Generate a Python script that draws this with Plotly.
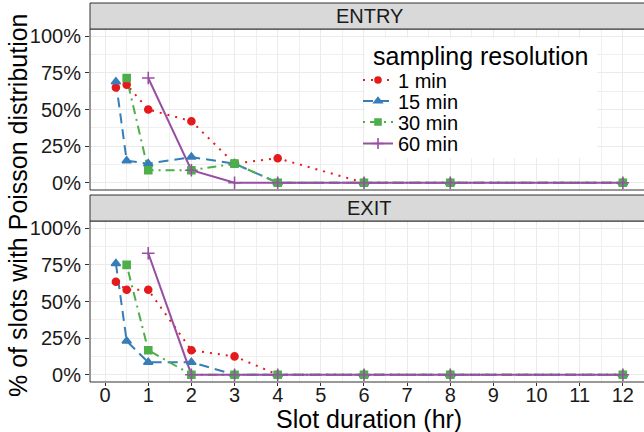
import plotly.graph_objects as go

# ---- data ----
x_all = [0.25, 0.5, 1, 2, 3, 4, 6, 8, 12]
x_30 = [0.5, 1, 2, 3, 4, 6, 8, 12]
x_60 = [1, 2, 3, 4, 6, 8, 12]

series_names = ["1 min", "15 min", "30 min", "60 min"]

entry_1 = [0.65, 0.67, 0.50, 0.42, 0.13, 0.167, 0, 0, 0]
entry_15 = [0.69, 0.15, 0.13, 0.175, 0.13, 0, 0, 0, 0]
entry_30 = [0.715, 0.085, 0.085, 0.13, 0, 0, 0, 0]
entry_60 = [0.715, 0.085, 0, 0, 0, 0, 0]

exit_1 = [0.635, 0.58, 0.58, 0.167, 0.125, 0, 0, 0, 0]
exit_15 = [0.76, 0.23, 0.085, 0.085, 0, 0, 0, 0, 0]
exit_30 = [0.75, 0.167, 0, 0, 0, 0, 0, 0]
exit_60 = [0.83, 0, 0, 0, 0, 0, 0]

panel_labels = ["ENTRY", "EXIT"]
y_ticks = [0, 0.25, 0.5, 0.75, 1.0]
x_ticks = list(range(0, 13))

# ---- styles ----
colors = ["#E41A1C", "#377EB8", "#4DAF4A", "#984EA3"]
dashes = ["2px,6px", "10px,6px", "2px,5px,9px,5px", "solid"]
symbols = ["circle", "triangle-up", "square", "cross-thin"]
msizes = [7, 8, 7, 9]
FONT = "Liberation Sans, Arial, sans-serif"

fig = go.Figure()

panels = [
    ("x", "y", [(x_all, entry_1), (x_all, entry_15), (x_30, entry_30), (x_60, entry_60)]),
    ("x2", "y2", [(x_all, exit_1), (x_all, exit_15), (x_30, exit_30), (x_60, exit_60)]),
]

for xa, ya, data in panels:
    for i, (xs, ys) in enumerate(data):
        fig.add_trace(go.Scatter(
            x=xs, y=ys, mode="lines", xaxis=xa, yaxis=ya, showlegend=False,
            line=dict(color=colors[i], width=2, dash=dashes[i]), hoverinfo="skip"))
    for i, (xs, ys) in enumerate(data):
        fig.add_trace(go.Scatter(
            x=xs, y=ys, mode="markers", xaxis=xa, yaxis=ya, showlegend=False,
            marker=dict(color=colors[i], symbol=symbols[i], size=msizes[i],
                        line=dict(color=colors[i], width=1.6))))

# geometry (pixels -> paper)
W, H = 644, 432
L, R, T, B = 90, 0, 3, 50
ph = H - T - B
pw = W - L - R
def py(p):
    return (H - B - p) / ph
def px(p):
    return (p - L) / pw

# legend: one plotly legend per entry so the rows can sit close together
legend_ids = ["legend", "legend2", "legend3", "legend4"]
legend_rows = [80, 101, 122, 143.5]
for i, name in enumerate(series_names):
    fig.add_trace(go.Scatter(
        x=[None], y=[None], mode="lines+markers", name=name, xaxis="x", yaxis="y",
        legend=legend_ids[i],
        line=dict(color=colors[i], width=2, dash=dashes[i]),
        marker=dict(color=colors[i], symbol=symbols[i], size=msizes[i] - 1,
                    line=dict(color=colors[i], width=1.6))))

legend_layout = {}
for i, lid in enumerate(legend_ids):
    legend_layout[lid] = dict(x=px(358), y=py(legend_rows[i]), xanchor="left", yanchor="middle",
                              bgcolor="rgba(0,0,0,0)", borderwidth=0,
                              font=dict(family=FONT, size=20, color="black"),
                              itemwidth=30, tracegroupgap=0)

top_dom = [py(190), py(29)]
bot_dom = [0, py(221)]
top_strip = [py(29), 1.0]
bot_strip = [py(221), py(195)]

xcommon = dict(range=[-0.35, 12.49], tickmode="array", tickvals=x_ticks,
               showgrid=True, gridcolor="#EBEBEB", gridwidth=1.2,
               minor=dict(dtick=0.5, tick0=0, showgrid=True, gridcolor="#EFEFEF", gridwidth=0.8),
               zeroline=False, showline=False, ticks="outside", ticklen=3,
               tickcolor="#333333", tickfont=dict(family=FONT, size=20, color="#1a1a1a"))
ycommon = dict(range=[-0.05, 1.05], tickmode="array", tickvals=y_ticks, tickformat=".0%",
               showgrid=True, gridcolor="#EBEBEB", gridwidth=1.2,
               minor=dict(dtick=0.125, tick0=0, showgrid=True, gridcolor="#EFEFEF", gridwidth=0.8),
               zeroline=False, showline=False, ticks="outside", ticklen=4,
               tickcolor="#333333", tickfont=dict(family=FONT, size=20, color="#1a1a1a"))

fig.update_layout(
    width=W, height=H,
    margin=dict(l=L, r=R, t=T, b=B),
    paper_bgcolor="white", plot_bgcolor="white",
    font=dict(family=FONT, color="black"),
    xaxis=dict(xcommon, anchor="y", showticklabels=False, ticks="", matches="x2"),
    xaxis2=dict(xcommon, anchor="y2", ticklabelstandoff=-8),
    yaxis=dict(ycommon, domain=top_dom, anchor="x"),
    yaxis2=dict(ycommon, domain=bot_dom, anchor="x2"),
    **legend_layout,
)

shapes = []
for dom in (top_dom, bot_dom):
    shapes.append(dict(type="rect", xref="paper", yref="paper", x0=0, x1=1.1,
                       y0=dom[0], y1=dom[1], line=dict(color="#333333", width=1),
                       fillcolor="rgba(0,0,0,0)", layer="above"))
for dom in (top_strip, bot_strip):
    shapes.append(dict(type="rect", xref="paper", yref="paper", x0=0, x1=1.1,
                       y0=dom[0], y1=dom[1], line=dict(color="#333333", width=1),
                       fillcolor="#D9D9D9", layer="above"))
# legend background
shapes.append(dict(type="rect", xref="paper", yref="paper", x0=px(365), x1=px(597),
                   y0=py(158), y1=py(38), line=dict(width=0), fillcolor="white", layer="above"))
fig.update_layout(shapes=shapes)

annotations = []
for lab, dom in zip(panel_labels, (top_strip, bot_strip)):
    annotations.append(dict(text=lab, xref="paper", yref="paper", x=px(369),
                            y=(dom[0] + dom[1]) / 2, xanchor="center", yanchor="middle",
                            showarrow=False, font=dict(family=FONT, size=20, color="#1a1a1a")))
annotations.append(dict(text="% of slots with Poisson distribution", xref="paper", yref="paper",
                        x=px(18), y=py(205), xanchor="center", yanchor="middle",
                        textangle=-90, showarrow=False,
                        font=dict(family=FONT, size=25, color="black")))
annotations.append(dict(text="Slot duration (hr)", xref="paper", yref="paper",
                        x=px(369), y=py(419), xanchor="center", yanchor="middle",
                        showarrow=False, font=dict(family=FONT, size=25, color="black")))
annotations.append(dict(text="sampling resolution", xref="paper", yref="paper",
                        x=px(371), y=py(56), xanchor="left", yanchor="middle",
                        showarrow=False, font=dict(family=FONT, size=25, color="black")))
fig.update_layout(annotations=annotations)

fig.write_html("out.html")
